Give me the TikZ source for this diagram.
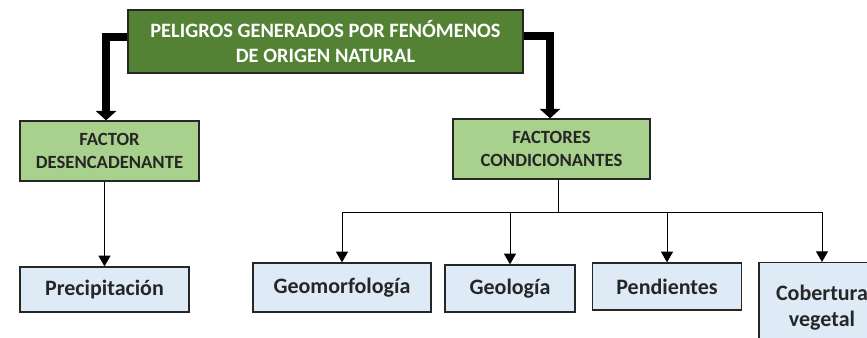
\documentclass[tikz,border=0pt]{standalone}
\usepackage{fontspec}
\setmainfont{Carlito}
\usepackage{tikz}
\usetikzlibrary{
  arrows.meta,
  positioning,
  calc
}
\definecolor{hazGreen}{HTML}{548235}
\definecolor{facGreen}{HTML}{A9D18E}
\definecolor{itemBlue}{HTML}{DEEBF7}
\definecolor{boxEdge}{HTML}{262626}

\tikzset{
  hazbox/.style={draw=boxEdge, line width=1pt, fill=hazGreen, text=white, align=center, inner sep=0pt,
    font=\bfseries\fontsize{15.3}{18.75}\selectfont},
  facbox/.style={draw=boxEdge, line width=1pt, fill=facGreen, text=boxEdge, align=center, inner sep=0pt,
    font=\bfseries\fontsize{14}{17.25}\selectfont},
  itembox/.style={draw=boxEdge, line width=1pt, fill=itemBlue, text=boxEdge, align=center, inner sep=0pt,
    font=\bfseries\fontsize{16.5}{19.5}\selectfont},
  bigarrow/.style={line width=6pt, -{Triangle[width=15pt,length=7pt]}},
  smallarrow/.style={line width=0.75pt, -{Triangle[width=9pt,length=8pt]}}
}

\begin{document}
\begin{tikzpicture}[x=0.75pt, y=-0.75pt]
  \useasboundingbox (0,0) rectangle (867,338);
  \clip (0,0) rectangle (867,338);
  % main hazard box
  \node[hazbox, minimum width=296.25pt, minimum height=47.25pt] (haz) at (325.5,41.5)
    {PELIGROS GENERADOS POR FENÓMENOS\\DE ORIGEN NATURAL};
  % the two kinds of factors
  \node[facbox, minimum width=134.25pt, minimum height=45pt] (trig) at (109.5,151)
    {FACTOR\\DESENCADENANTE};
  \node[facbox, minimum width=147.75pt, minimum height=45pt] (cond) at (551.5,149)
    {FACTORES\\CONDICIONANTES};
  % leaves
  \node[itembox, minimum width=126.75pt, minimum height=33.75pt] (prec) at (104.5,289.5) {Precipitación};
  \node[itembox, minimum width=133.5pt, minimum height=36.75pt] (geom) at (342,287.5) {Geomorfología};
  \node[itembox, minimum width=97.5pt, minimum height=35.25pt] (geol) at (510,288.5) {Geología};
  \node[itembox, minimum width=111.75pt, minimum height=35.25pt] (pend) at (667,286.5) {Pendientes};
  \node[itembox, minimum width=94.5pt, minimum height=67.5pt, anchor=north] (cob) at (822,262)
    {Cobertura\\vegetal};
  % thick arrows
  \draw[bigarrow] ([yshift=3pt]haz.west) -| ([xshift=-2.6pt]trig.north);
  \draw[bigarrow] ([yshift=3.75pt]haz.east) -| ([xshift=-1.1pt]cond.north);
  % thin arrows
  \draw[smallarrow] (trig.south -| prec.north) -- (prec.north);
  \coordinate (bus) at (558,213);
  \draw[line width=0.75pt] (bus |- cond.south) -- (bus);
  \foreach \n in {geom,geol,pend,cob}
    \draw[smallarrow] (bus) -| (\n.north);
\end{tikzpicture}
\end{document}
